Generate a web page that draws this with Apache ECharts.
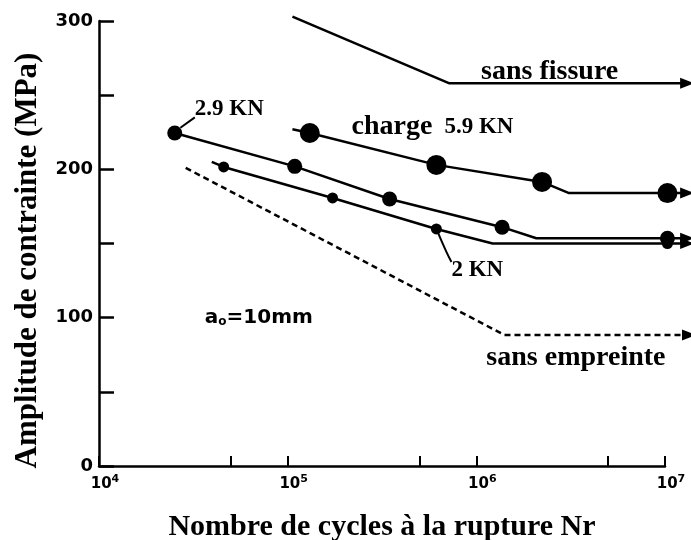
<!DOCTYPE html>
<html>
<head>
<meta charset="utf-8">
<script src="https://cdn.jsdelivr.net/npm/echarts@6/dist/echarts.min.js"></script>
<style>
html,body{margin:0;padding:0;background:#fff;}
#main{width:691px;height:540px;}
</style>
</head>
<body>
<div id="main"></div>
<script>
// courbes (N cycles, MPa)
var fissureX=[1.06e5,7.2e5,1.31e7];
var fissureY=[303,258,258];
var fissureMk=["none","none","arrow"];

var charge59X=[1.06e5,1.31e5,6.14e5,2.23e6,3.1e6,1.03e7,1.31e7];
var charge59Y=[227,224.5,203,191.5,184,184,184];
var charge59Mk=["none","dot","dot","dot","none","dot","arrow"];

var kn29X=[2.52e4,1.09e5,3.47e5,1.37e6,2.08e6,1.03e7,1.31e7];
var kn29Y=[224.5,202,180,161,153.5,153.5,153.5];
var kn29Mk=["dot","dot","dot","dot","none","dot","arrow"];

var kn2X=[3.96e4,4.58e4,1.73e5,6.14e5,1.22e6,1.03e7,1.31e7];
var kn2Y=[205,201.6,180.7,159.8,150,150,150];
var kn2Mk=["none","dot","dot","dot","none","dot","arrow"];

var empreinteX=[2.88e4,1.41e6,1.34e7];
var empreinteY=[201,88.3,88.3];
var empreinteMk=["none","none","arrow"];

// traits de rappel des étiquettes
var lead29X=[2.7e4,3.22e4];
var lead29Y=[228,235];
var lead2X=[6.14e5,6.94e5,7.38e5];
var lead2Y=[159.8,144.3,137.6];

var yTicks=[0,100,200,300];
var xTicks=[1e4,5e4,1e5,5e5,1e6,5e6,1e7];

// étiquettes (ancrage gauche, en coordonnées des données)
var noteText=["sans fissure","charge 5.9 KN","2.9 KN","2 KN","sans empreinte","ao=10mm"];
var noteX=[1.06e6,2.18e5,3.22e4,7.38e5,1.13e6,3.64e4];
var noteY=[266,228.6,240.7,132,72.8,99.8];

var serif="Liberation Serif";

// la figure d'origine trace les flèches au-delà de 10^7 :
// une 2e grille invisible, même échelle, prolongée jusqu'au bord droit
var gridLeft=99,gridRight=26,gridTop=21,gridBottom=74,chartW=691;
var plotW=chartW-gridLeft-gridRight;
var xMaxExt=Math.pow(10,4+3*(chartW-gridLeft)/plotW);

function buildData(xs,ys,mk,dotSize){
    var out=[];
    for(var i=0;i<xs.length;i++){
        var item={value:[xs[i],ys[i]]};
        if(mk[i]=="none"){
            item.symbol="none";
        }else if(mk[i]=="arrow"){
            item.symbol="triangle";
            item.symbolRotate=-90;
            item.symbolSize=[11,14];
        }else{
            item.symbol="circle";
            item.symbolSize=dotSize;
        }
        out.push(item);
    }
    return out;
}

function lineSeries(name,xs,ys,mk,dotSize,dashed){
    return {
        name:name,
        type:"line",
        xAxisIndex:1,
        yAxisIndex:1,
        clip:false,
        silent:true,
        data:buildData(xs,ys,mk,dotSize),
        itemStyle:{color:"#000"},
        lineStyle:{color:"#000",width:2.5,type:dashed?[6,4]:"solid"},
        z:3
    };
}

function noteLabel(txt){
    if(txt=="charge 5.9 KN"){
        return "{big|charge}{mid|5.9 KN}";
    }
    if(txt=="ao=10mm"){
        return "{sa|a}{sb|o}{sa|=10mm}";
    }
    if(txt.indexOf("sans")==0){
        return "{big|"+txt+"}";
    }
    return "{mid|"+txt+"}";
}

var notes=[];
for(var i=0;i<noteText.length;i++){
    notes.push({value:[noteX[i],noteY[i]],label:{formatter:noteLabel(noteText[i])}});
}

var myChart=echarts.init(document.getElementById("main"));
var option={
    backgroundColor:"#fff",
    animation:false,
    grid:[
        {left:gridLeft,right:gridRight,top:gridTop,bottom:gridBottom,outerBoundsMode:"none"},
        {left:gridLeft,right:0,top:gridTop,bottom:gridBottom,outerBoundsMode:"none"}
    ],
    xAxis:[{
        type:"log",
        gridIndex:0,
        logBase:10,
        min:1e4,
        max:1e7,
        name:"Nombre de cycles à la rupture Nr",
        nameLocation:"middle",
        nameGap:46,
        nameTextStyle:{fontFamily:serif,fontWeight:"bold",fontSize:30,color:"#000"},
        axisLine:{lineStyle:{color:"#000",width:2.5}},
        axisTick:{show:true,inside:true,length:10,customValues:xTicks,lineStyle:{color:"#000",width:2}},
        splitLine:{show:false},
        axisLabel:{
            color:"#000",
            margin:8,
            padding:[0,0,0,12],
            formatter:function(v){
                var e=Math.round(Math.log(v)/Math.LN10);
                return "{n|10}{s|"+e+"}";
            },
            rich:{
                n:{fontFamily:"DejaVu Sans",fontWeight:"bold",fontSize:15,color:"#000"},
                s:{fontFamily:"DejaVu Sans",fontWeight:"bold",fontSize:11,color:"#000",padding:[0,0,9,0]}
            }
        }
    },{
        type:"log",
        gridIndex:1,
        logBase:10,
        min:1e4,
        max:xMaxExt,
        show:false
    }],
    yAxis:[{
        type:"value",
        gridIndex:0,
        min:0,
        max:300,
        interval:50,
        name:"Amplitude de contrainte (MPa)",
        nameLocation:"middle",
        nameRotate:90,
        nameGap:56,
        nameTextStyle:{fontFamily:serif,fontWeight:"bold",fontSize:31,color:"#000",padding:[0,34,0,0]},
        axisLine:{show:true,lineStyle:{color:"#000",width:2.5}},
        axisTick:{show:true,inside:true,length:15,lineStyle:{color:"#000",width:2.5}},
        splitLine:{show:false},
        axisLabel:{
            color:"#000",
            fontFamily:"DejaVu Sans",
            fontWeight:"bold",
            fontSize:18,
            margin:6,
            formatter:function(v){
                return yTicks.indexOf(v)>=0?String(v):"";
            }
        }
    },{
        type:"value",
        gridIndex:1,
        min:0,
        max:300,
        show:false
    }],
    series:[
        lineSeries("sans fissure",fissureX,fissureY,fissureMk,0,false),
        lineSeries("charge 5.9 KN",charge59X,charge59Y,charge59Mk,20,false),
        lineSeries("2.9 KN",kn29X,kn29Y,kn29Mk,15,false),
        lineSeries("2 KN",kn2X,kn2Y,kn2Mk,11,false),
        lineSeries("sans empreinte",empreinteX,empreinteY,empreinteMk,0,true),
        {
            type:"line",xAxisIndex:1,yAxisIndex:1,clip:false,silent:true,symbol:"none",
            data:lead29X.map(function(x,i){return [x,lead29Y[i]];}),
            lineStyle:{color:"#000",width:2}
        },
        {
            type:"line",xAxisIndex:1,yAxisIndex:1,clip:false,silent:true,symbol:"none",smooth:true,
            data:lead2X.map(function(x,i){return [x,lead2Y[i]];}),
            lineStyle:{color:"#000",width:2}
        },
        {
            type:"scatter",
            xAxisIndex:1,
            yAxisIndex:1,
            silent:true,
            symbolSize:0,
            clip:false,
            itemStyle:{opacity:1},
            data:notes,
            label:{
                show:true,
                position:"right",
                distance:0,
                color:"#000",
                opacity:1,
                rich:{
                    big:{fontFamily:serif,fontWeight:"bold",fontSize:28,color:"#000",padding:[0,12,0,0]},
                    mid:{fontFamily:serif,fontWeight:"bold",fontSize:23,color:"#000"},
                    sa:{fontFamily:"DejaVu Sans",fontWeight:"bold",fontSize:20,color:"#000"},
                    sb:{fontFamily:"DejaVu Sans",fontWeight:"bold",fontSize:12,color:"#000",padding:[8,0,0,0]}
                }
            },
            z:5
        }
    ]
};
myChart.setOption(option);
</script>
</body>
</html>
